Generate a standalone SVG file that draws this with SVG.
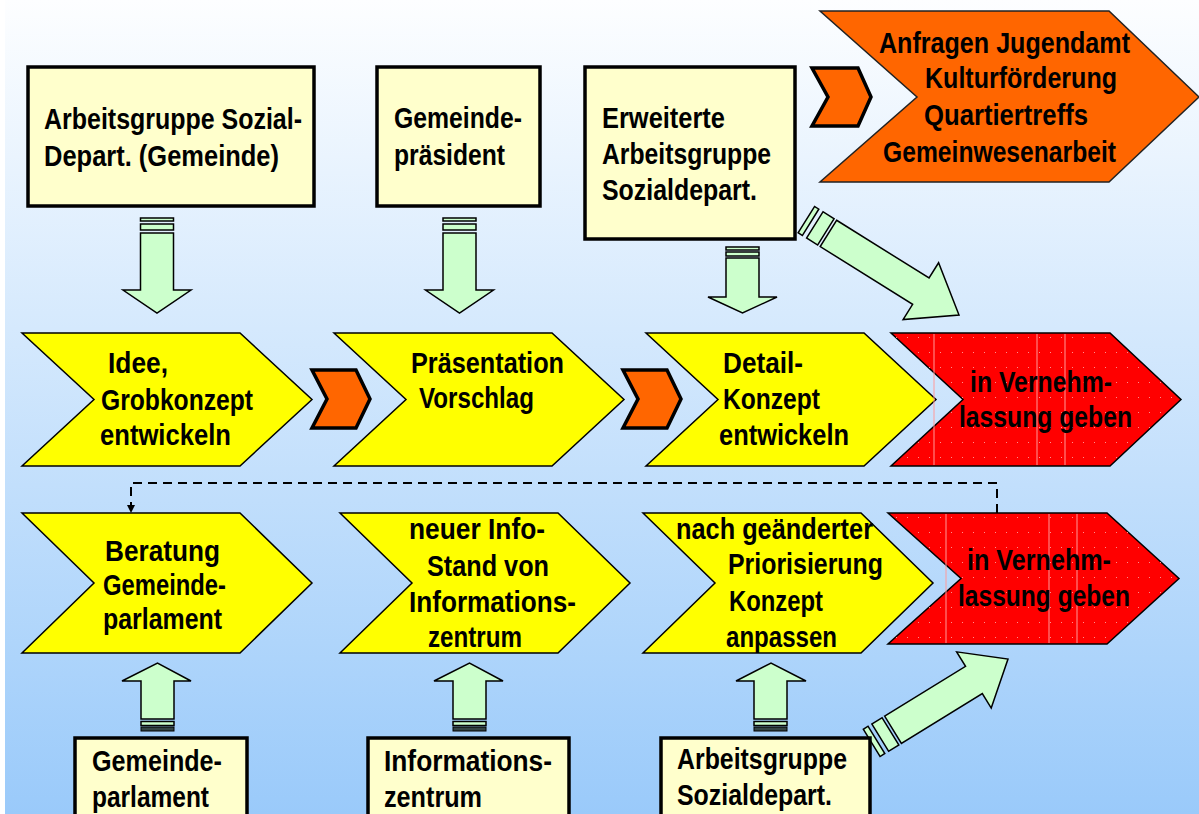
<svg xmlns="http://www.w3.org/2000/svg" width="1199" height="814" viewBox="0 0 1199 814">
<defs>
<linearGradient id="bg" x1="0" y1="0" x2="0" y2="1">
<stop offset="0" stop-color="#fdfeff"/>
<stop offset="1" stop-color="#9acafa"/>
</linearGradient>
<pattern id="dots" x="0" y="0" width="11" height="15" patternUnits="userSpaceOnUse">
<rect x="5" y="7" width="1" height="1" fill="#ff9090"/>
</pattern>
<marker id="ah" viewBox="0 0 10 10" refX="10" refY="5" markerWidth="8" markerHeight="8" markerUnits="userSpaceOnUse" orient="auto">
<path d="M0,0 L10,5 L0,10 z" fill="#000"/>
</marker>
</defs>
<style>
.t{font-family:"Liberation Sans",Arial,sans-serif;font-weight:bold;font-size:29.5px;fill:#000}
.box{fill:#ffffcc;stroke:#000;stroke-width:3.5}
.yel{fill:#ffff00;stroke:#000;stroke-width:1.5;stroke-linejoin:miter}
.red{fill:#ff0000;stroke:#000;stroke-width:1.5}
.redtex{fill:url(#dots);stroke:none}
.rl{stroke:#ff9a9a;stroke-width:1}
.org{fill:#ff6600;stroke:#222;stroke-width:1.5}
.sorg{fill:#ff6600;stroke:#000;stroke-width:3.5;stroke-linejoin:miter}
.arr{fill:#ccffcc;stroke:#000;stroke-width:1.5;stroke-linejoin:miter}
.dk{fill:#334444;stroke:#000;stroke-width:1}
.dash{fill:none;stroke:#000;stroke-width:2;stroke-dasharray:9 6}
</style>
<rect x="0" y="0" width="1199" height="814" fill="#ffffff"/>
<rect x="5" y="0" width="1194" height="814" fill="url(#bg)"/>

<g id="connectors">
<g id="arrow-box1">
<rect class="arr" x="140.5" y="218" width="33" height="3"/>
<rect class="arr" x="140.5" y="224" width="33" height="6"/>
<polygon class="arr" points="140.5,233 173.5,233 173.5,290 191,290 157,313 123,290 140.5,290"/>
</g>
<g id="arrow-box2">
<rect class="arr" x="443" y="218" width="33" height="3"/>
<rect class="arr" x="443" y="224" width="33" height="6"/>
<polygon class="arr" points="443,233 476,233 476,290 493.5,290 459.5,313 425.5,290 443,290"/>
</g>
<g id="arrow-box3">
<rect class="arr" x="726" y="247" width="33" height="3"/>
<rect class="arr" x="726" y="252" width="33" height="4"/>
<polygon class="arr" points="726,258 759,258 759,297 777,297 742.5,313 708,297 726,297"/>
</g>
<g id="arrow-box3-diag" transform="translate(959,315) rotate(32)">
<rect class="arr" x="-180" y="-15.5" width="5" height="31"/>
<rect class="arr" x="-170" y="-15.5" width="13" height="31"/>
<polygon class="arr" points="-154,-15.5 -45,-15.5 -45,-33.5 0,0 -45,33.5 -45,15.5 -154,15.5"/>
</g>
<g id="arrow-up1">
<polygon class="arr" points="141,719 174,719 174,681 191,681 157.5,663 122,681 141,681"/>
<rect class="arr" x="141" y="721.5" width="33" height="4"/>
<rect class="dk" x="141" y="727" width="33" height="4"/>
</g>
<g id="arrow-up2">
<polygon class="arr" points="453,719 486,719 486,681 503,681 469.5,663 434,681 453,681"/>
<rect class="arr" x="453" y="721.5" width="33" height="4"/>
<rect class="dk" x="453" y="727" width="33" height="4"/>
</g>
<g id="arrow-up3">
<polygon class="arr" points="754,719 787,719 787,681 806,681 771,663 736,681 754,681"/>
<rect class="arr" x="754" y="721.5" width="33" height="4"/>
<rect class="dk" x="754" y="727" width="33" height="4"/>
</g>
<g id="arrow-box6-diag" transform="translate(1008,659) rotate(-31.6)">
<rect class="arr" x="-160" y="-16" width="5.5" height="32"/>
<rect class="arr" x="-150" y="-16" width="12" height="32"/>
<polygon class="arr" points="-135,-16 -40,-16 -40,-33 0,0 -40,33 -40,16 -135,16"/>
</g>
<polygon id="flow0" class="sorg" points="812,68 858,68 871,97 858,126 812,126 828,97"/>
<polygon id="flow1" class="sorg" points="312,370 356,370 370,399 356,428 312,428 327,399"/>
<polygon id="flow2" class="sorg" points="623,370 667,370 681,399 667,428 623,428 638,399"/>
<path class="dash" d="M997,513 V483 H131 V513" marker-end="url(#ah)"/>
</g>

<g id="box-arbeitsgruppe-gemeinde">
<rect class="box" x="28" y="67" width="286" height="139"/>
<text class="t" x="44" y="129" textLength="258" lengthAdjust="spacingAndGlyphs">Arbeitsgruppe Sozial-</text>
<text class="t" x="44" y="166" textLength="235" lengthAdjust="spacingAndGlyphs">Depart. (Gemeinde)</text>
</g>
<g id="box-gemeindepraesident">
<rect class="box" x="377" y="67" width="163" height="139"/>
<text class="t" x="394" y="128" textLength="128" lengthAdjust="spacingAndGlyphs">Gemeinde-</text>
<text class="t" x="394" y="165" textLength="111" lengthAdjust="spacingAndGlyphs">präsident</text>
</g>
<g id="box-erweiterte">
<rect class="box" x="585" y="67" width="210" height="172"/>
<text class="t" x="602" y="128" textLength="123" lengthAdjust="spacingAndGlyphs">Erweiterte</text>
<text class="t" x="602" y="164" textLength="169" lengthAdjust="spacingAndGlyphs">Arbeitsgruppe</text>
<text class="t" x="602" y="200" textLength="155" lengthAdjust="spacingAndGlyphs">Sozialdepart.</text>
</g>
<g id="anfragen">
<polygon class="org" points="820,11 1109,11 1199,97 1109,182 820,182 917,97"/>
<text class="t" x="879" y="53" textLength="251" lengthAdjust="spacingAndGlyphs">Anfragen Jugendamt</text>
<text class="t" x="925" y="88" textLength="192" lengthAdjust="spacingAndGlyphs">Kulturförderung</text>
<text class="t" x="924" y="125" textLength="164" lengthAdjust="spacingAndGlyphs">Quartiertreffs</text>
<text class="t" x="883" y="162" textLength="233" lengthAdjust="spacingAndGlyphs">Gemeinwesenarbeit</text>
</g>

<g id="idee">
<polygon class="yel" points="22,333 240,333 312,399.5 240,466 22,466 94,399.5"/>
<text class="t" x="108" y="373" textLength="60" lengthAdjust="spacingAndGlyphs">Idee,</text>
<text class="t" x="101" y="410" textLength="152" lengthAdjust="spacingAndGlyphs">Grobkonzept</text>
<text class="t" x="100" y="445" textLength="131" lengthAdjust="spacingAndGlyphs">entwickeln</text>
</g>
<g id="praesentation">
<polygon class="yel" points="334,333 552,333 624,399.5 552,466 334,466 406,399.5"/>
<text class="t" x="411" y="373" textLength="153" lengthAdjust="spacingAndGlyphs">Präsentation</text>
<text class="t" x="419" y="408" textLength="115" lengthAdjust="spacingAndGlyphs">Vorschlag</text>
</g>
<g id="detailkonzept">
<polygon class="yel" points="646,333 864,333 936,399.5 864,466 646,466 718,399.5"/>
<text class="t" x="723" y="373" textLength="80" lengthAdjust="spacingAndGlyphs">Detail-</text>
<text class="t" x="723" y="409" textLength="97" lengthAdjust="spacingAndGlyphs">Konzept</text>
<text class="t" x="719" y="445" textLength="130" lengthAdjust="spacingAndGlyphs">entwickeln</text>
</g>
<g id="vernehmlassung1">
<polygon class="red" points="891,333 1110,333 1181,399.5 1110,466 891,466 963,399.5"/>
<polygon class="redtex" points="891,333 1110,333 1181,399.5 1110,466 891,466 963,399.5"/>
<line class="rl" x1="934" y1="334" x2="934" y2="465"/>
<line class="rl" x1="1037" y1="334" x2="1037" y2="465"/>
<line class="rl" x1="1065" y1="334" x2="1065" y2="465"/>
<text class="t" x="970" y="392" textLength="142" lengthAdjust="spacingAndGlyphs">in Vernehm-</text>
<text class="t" x="959" y="427" textLength="173" lengthAdjust="spacingAndGlyphs">lassung geben</text>
</g>

<g id="beratung">
<polygon class="yel" points="22,513 240,513 312,583 240,653 22,653 94,583"/>
<text class="t" x="105" y="561" textLength="115" lengthAdjust="spacingAndGlyphs">Beratung</text>
<text class="t" x="103" y="595" textLength="123" lengthAdjust="spacingAndGlyphs">Gemeinde-</text>
<text class="t" x="103" y="629" textLength="119" lengthAdjust="spacingAndGlyphs">parlament</text>
</g>
<g id="infostand">
<polygon class="yel" points="340,513 558,513 630,583 558,653 340,653 412,583"/>
<text class="t" x="409" y="539" textLength="136" lengthAdjust="spacingAndGlyphs">neuer Info-</text>
<text class="t" x="427" y="576" textLength="122" lengthAdjust="spacingAndGlyphs">Stand von</text>
<text class="t" x="409" y="612" textLength="167" lengthAdjust="spacingAndGlyphs">Informations-</text>
<text class="t" x="428" y="647" textLength="94" lengthAdjust="spacingAndGlyphs">zentrum</text>
</g>
<g id="anpassen">
<polygon class="yel" points="643,513 861,513 933,583 861,653 643,653 715,583"/>
<text class="t" x="676" y="539" textLength="197" lengthAdjust="spacingAndGlyphs">nach geänderter</text>
<text class="t" x="728" y="574" textLength="155" lengthAdjust="spacingAndGlyphs">Priorisierung</text>
<text class="t" x="729" y="611" textLength="94" lengthAdjust="spacingAndGlyphs">Konzept</text>
<text class="t" x="726" y="647" textLength="111" lengthAdjust="spacingAndGlyphs">anpassen</text>
</g>
<g id="vernehmlassung2">
<polygon class="red" points="888,513 1107,513 1179,578.5 1107,644 888,644 961,578.5"/>
<polygon class="redtex" points="888,513 1107,513 1179,578.5 1107,644 888,644 961,578.5"/>
<line class="rl" x1="946" y1="514" x2="946" y2="643"/>
<line class="rl" x1="1049" y1="514" x2="1049" y2="643"/>
<line class="rl" x1="1077" y1="514" x2="1077" y2="643"/>
<text class="t" x="967" y="570" textLength="144" lengthAdjust="spacingAndGlyphs">in Vernehm-</text>
<text class="t" x="958" y="606" textLength="172" lengthAdjust="spacingAndGlyphs">lassung geben</text>
</g>

<g id="box-gemeindeparlament">
<rect class="box" x="75" y="738" width="172" height="90"/>
<text class="t" x="92" y="771" textLength="130" lengthAdjust="spacingAndGlyphs">Gemeinde-</text>
<text class="t" x="92" y="807" textLength="117" lengthAdjust="spacingAndGlyphs">parlament</text>
</g>
<g id="box-informationszentrum">
<rect class="box" x="368" y="738" width="201" height="90"/>
<text class="t" x="384" y="771" textLength="168" lengthAdjust="spacingAndGlyphs">Informations-</text>
<text class="t" x="384" y="807" textLength="98" lengthAdjust="spacingAndGlyphs">zentrum</text>
</g>
<g id="box-arbeitsgruppe-sozialdepart">
<rect class="box" x="661" y="738" width="209" height="90"/>
<text class="t" x="677" y="769" textLength="170" lengthAdjust="spacingAndGlyphs">Arbeitsgruppe</text>
<text class="t" x="677" y="805" textLength="155" lengthAdjust="spacingAndGlyphs">Sozialdepart.</text>
</g>
</svg>
